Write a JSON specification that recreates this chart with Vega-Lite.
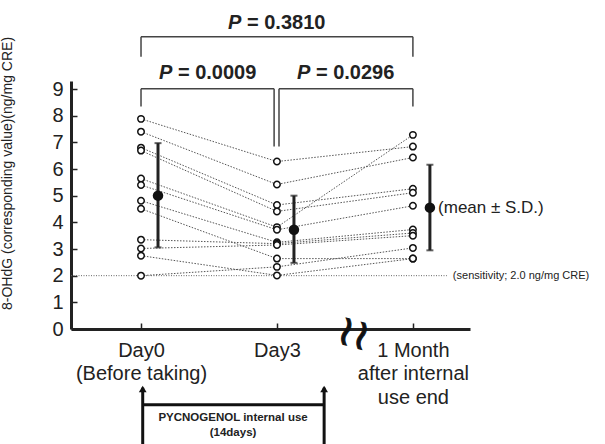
{
  "$schema": "https://vega.github.io/schema/vega-lite/v6.json",
  "width": 399,
  "height": 248,
  "autosize": {"type": "none"},
  "padding": {"left": 71, "top": 81, "right": 135, "bottom": 115},
  "background": "white",
  "config": {"view": {"stroke": null}, "font": "Liberation Sans"},
  "datasets": {
    "obs": [
      {"subject": "S1", "t": 0, "v": 7.88}, {"subject": "S1", "t": 1, "v": 6.28}, {"subject": "S1", "t": 2, "v": 6.84},
      {"subject": "S2", "t": 0, "v": 7.40}, {"subject": "S2", "t": 1, "v": 5.42}, {"subject": "S2", "t": 2, "v": 6.43},
      {"subject": "S3", "t": 0, "v": 6.80}, {"subject": "S3", "t": 1, "v": 4.65}, {"subject": "S3", "t": 2, "v": 5.26},
      {"subject": "S4", "t": 0, "v": 6.69}, {"subject": "S4", "t": 1, "v": 4.41}, {"subject": "S4", "t": 2, "v": 5.11},
      {"subject": "S5", "t": 0, "v": 5.64}, {"subject": "S5", "t": 1, "v": 3.82}, {"subject": "S5", "t": 2, "v": 7.28},
      {"subject": "S6", "t": 0, "v": 5.40}, {"subject": "S6", "t": 1, "v": 3.72}, {"subject": "S6", "t": 2, "v": 4.62},
      {"subject": "S7", "t": 0, "v": 4.81}, {"subject": "S7", "t": 1, "v": 3.25}, {"subject": "S7", "t": 2, "v": 3.73},
      {"subject": "S8", "t": 0, "v": 4.51}, {"subject": "S8", "t": 1, "v": 2.64}, {"subject": "S8", "t": 2, "v": 2.64},
      {"subject": "S9", "t": 0, "v": 3.35}, {"subject": "S9", "t": 1, "v": 3.20}, {"subject": "S9", "t": 2, "v": 3.60},
      {"subject": "S10", "t": 0, "v": 3.02}, {"subject": "S10", "t": 1, "v": 3.15}, {"subject": "S10", "t": 2, "v": 3.50},
      {"subject": "S11", "t": 0, "v": 2.75}, {"subject": "S11", "t": 1, "v": 2.01}, {"subject": "S11", "t": 2, "v": 2.64},
      {"subject": "S12", "t": 0, "v": 2.00}, {"subject": "S12", "t": 1, "v": 2.33}, {"subject": "S12", "t": 2, "v": 3.04}
    ],
    "means": [
      {"t": 0, "v": 5.0}, {"t": 1, "v": 3.72}, {"t": 2, "v": 4.55}
    ],
    "sd": [
      {"t": 0, "v": 3.06, "v2": 6.97}, {"t": 1, "v": 2.48, "v2": 5.0}, {"t": 2, "v": 2.95, "v2": 6.16}
    ],
    "brackets": [
      {"t": 0, "t2": 2, "v": 10.96, "v2": 10.96},
      {"t": 0, "t2": 0, "v": 10.96, "v2": 10.21},
      {"t": 2, "t2": 2, "v": 10.96, "v2": 10.21},
      {"t": 0, "t2": 0.979, "v": 9.01, "v2": 9.01},
      {"t": 0, "t2": 0, "v": 9.01, "v2": 8.34},
      {"t": 0.979, "t2": 0.979, "v": 9.01, "v2": 6.84},
      {"t": 1.015, "t2": 2, "v": 9.01, "v2": 9.01},
      {"t": 1.015, "t2": 1.015, "v": 9.01, "v2": 6.84},
      {"t": 2, "t2": 2, "v": 9.01, "v2": 8.34}
    ],
    "plabels": [
      {"t": 0.993, "v": 11.47, "rest": "= 0.3810"},
      {"t": 0.485, "v": 9.59, "rest": "= 0.0009"},
      {"t": 1.5, "v": 9.59, "rest": "= 0.0296"}
    ],
    "period": [
      {"t": 0.0125, "t2": 0.0125, "v": -2.2, "v2": -4.5},
      {"t": 1.347, "t2": 1.347, "v": -2.2, "v2": -4.5},
      {"t": 0.0125, "t2": 1.347, "v": -2.84, "v2": -2.84}
    ],
    "arrowheads": [
      {"t": 0.0125, "v": -2.25}, {"t": 1.347, "v": -2.25}
    ],
    "periodtext": [
      {"t": 0.677, "v": -3.33, "label": "PYCNOGENOL internal use"},
      {"t": 0.677, "v": -3.89, "label": "(14days)"}
    ]
  },
  "encoding": {
    "x": {
      "field": "t", "type": "quantitative",
      "scale": {"domain": [-0.515, 2.42], "nice": false, "zero": false},
      "axis": {
        "values": [0, 1, 2],
        "labelExpr": "datum.value == 0 ? ['Day0', '(Before taking)'] : datum.value == 1 ? ['Day3'] : ['1 Month', 'after internal', 'use end']",
        "labelFontSize": 20, "labelLineHeight": 23.5, "labelColor": "#222",
        "labelPadding": 17, "labelBaseline": "top", "labelFlush": false, "labelOverlap": false,
        "tickSize": -6, "tickWidth": 1.5, "tickColor": "#222",
        "domainWidth": 3, "domainColor": "#222", "grid": false, "title": null
      }
    },
    "y": {
      "field": "v", "type": "quantitative",
      "scale": {"domain": [0, 9.3], "nice": false, "zero": false},
      "axis": {
        "values": [0, 1, 2, 3, 4, 5, 6, 7, 8, 9],
        "labelFontSize": 20, "labelColor": "#222", "labelPadding": 14,
        "tickSize": -6, "tickWidth": 1.5, "tickColor": "#222",
        "domainWidth": 3, "domainColor": "#222", "grid": false,
        "title": "8-OHdG (corresponding value)(ng/mg CRE)",
        "titleFontSize": 14, "titleFontWeight": "normal", "titleColor": "#222",
        "titleX": -64, "titleY": 92, "titleAngle": -90, "titleAlign": "center", "titleBaseline": "middle"
      }
    }
  },
  "layer": [
    {
      "data": {"values": [{"t": -0.515, "t2": 2.25, "v": 2}]},
      "mark": {"type": "rule", "color": "#666", "strokeWidth": 1, "strokeDash": [1, 1.5]},
      "encoding": {"x2": {"field": "t2"}}
    },
    {
      "data": {"values": [{"t": 2.294, "v": 2, "label": "(sensitivity; 2.0 ng/mg CRE)"}]},
      "mark": {"type": "text", "align": "left", "baseline": "middle", "fontSize": 11, "color": "#222"},
      "encoding": {"text": {"field": "label"}}
    },
    {
      "data": {"name": "obs"},
      "mark": {"type": "line", "color": "#555", "strokeWidth": 1, "strokeDash": [1.5, 1.5]},
      "encoding": {"detail": {"field": "subject"}, "order": {"field": "t"}}
    },
    {
      "data": {"name": "obs"},
      "mark": {"type": "point", "shape": "circle", "fill": "white", "filled": true, "stroke": "#111", "strokeWidth": 1.5, "size": 42, "opacity": 1}
    },
    {
      "data": {"name": "sd"},
      "mark": {"type": "rule", "color": "#222", "strokeWidth": 3, "xOffset": 17},
      "encoding": {"y2": {"field": "v2"}}
    },
    {
      "data": {"name": "sd"},
      "transform": [{"fold": ["v", "v2"], "as": ["end", "v"]}],
      "mark": {"type": "tick", "orient": "horizontal", "color": "#222", "size": 7, "thickness": 2, "xOffset": 17}
    },
    {
      "data": {"name": "means"},
      "mark": {"type": "point", "shape": "circle", "filled": true, "color": "#111", "size": 110, "opacity": 1, "xOffset": 17}
    },
    {
      "data": {"values": [{"t": 2.185, "v": 4.55, "label": "(mean ± S.D.)"}]},
      "mark": {"type": "text", "align": "left", "baseline": "middle", "fontSize": 17, "color": "#222"},
      "encoding": {"text": {"field": "label"}}
    },
    {
      "data": {"name": "brackets"},
      "mark": {"type": "rule", "color": "#444", "strokeWidth": 1.5},
      "encoding": {"x2": {"field": "t2"}, "y2": {"field": "v2"}}
    },
    {
      "data": {"name": "plabels"},
      "mark": {"type": "text", "text": "P", "align": "left", "baseline": "middle", "fontSize": 20, "fontWeight": "bold", "fontStyle": "italic", "color": "#222", "dx": -48}
    },
    {
      "data": {"name": "plabels"},
      "mark": {"type": "text", "align": "left", "baseline": "middle", "fontSize": 20, "fontWeight": "bold", "color": "#222", "dx": -29},
      "encoding": {"text": {"field": "rest"}}
    },
    {
      "data": {"name": "period"},
      "mark": {"type": "rule", "color": "#111", "strokeWidth": 3},
      "encoding": {"x2": {"field": "t2"}, "y2": {"field": "v2"}}
    },
    {
      "data": {"name": "arrowheads"},
      "mark": {"type": "point", "shape": "triangle-up", "filled": true, "color": "#111", "size": 60, "opacity": 1}
    },
    {
      "data": {"name": "periodtext"},
      "mark": {"type": "text", "align": "center", "baseline": "middle", "fontSize": 11.5, "fontWeight": "bold", "color": "#222"},
      "encoding": {"text": {"field": "label"}}
    },
    {
      "data": {"values": [{"t": 1.575, "v": 0, "label": "≀≀"}]},
      "mark": {"type": "text", "align": "center", "baseline": "middle", "fontSize": 42, "font": "DejaVu Sans", "color": "#111", "stroke": "#111", "strokeWidth": 1, "angle": 15, "dy": 5},
      "encoding": {"text": {"field": "label"}}
    }
  ]
}
